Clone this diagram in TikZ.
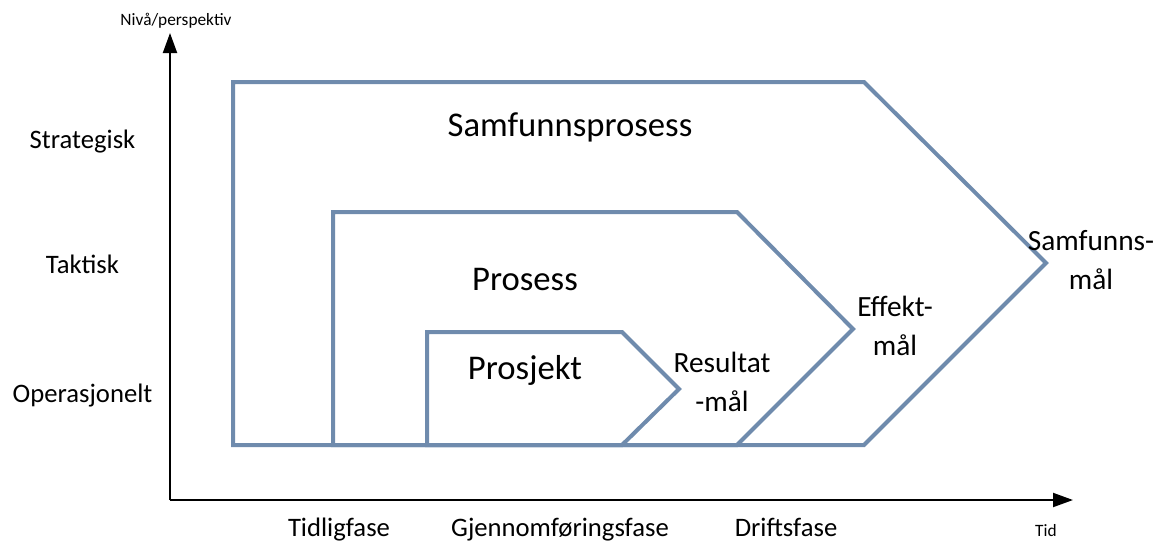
\documentclass[tikz,border=0pt]{standalone}
\usepackage{fontspec}
\setmainfont{Carlito}
\usetikzlibrary{arrows.meta}
\definecolor{frame}{HTML}{6F8BAD}
\tikzset{
  phase/.style={draw=frame, line width=3pt, line join=miter},
  axis/.style={draw=black, line width=1.5pt, -{Triangle[length=15pt,width=10.5pt]}},
  lbl/.style={inner sep=0pt, anchor=base, font=\fontsize{20}{24}\selectfont},
  big/.style={inner sep=0pt, anchor=base, font=\fontsize{26}{31}\selectfont},
  goal/.style={inner sep=0pt, align=center, font=\fontsize{22}{29.5}\selectfont},
  tiny/.style={inner sep=0pt, anchor=base, font=\fontsize{13}{15}\selectfont}
}
\begin{document}
\begin{tikzpicture}[x=0.75pt, y=-0.75pt]
\useasboundingbox (0,0) rectangle (1164,544);

% nested phase shapes
\draw[phase] (233,82) -- (864,82) -- (1046,263) -- (864,445) -- (233,445) -- cycle;
\draw[phase] (333,212) -- (737,212) -- (853,329) -- (737,445) -- (333,445) -- cycle;
\draw[phase] (427,332) -- (622,332) -- (679,389) -- (622,445) -- (427,445) -- cycle;

% axes
\coordinate (origin) at (170,500);
\coordinate (ytip) at (170,33);
\coordinate (xtip) at (1073,500);
\draw[axis] (origin) -- (ytip);
\draw[axis] (origin) -- (xtip);

\node[tiny] (ylab) at (176,25) {Nivå/perspektiv};
\node[tiny] (xlab) at (1046,536) {Tid};

\node[lbl] (strat) at (82.5,148) {Strategisk};
\node[lbl] (takt) at (82.5,273) {Taktisk};
\node[lbl] (oper) at (82.5,402) {Operasjonelt};

\node[lbl] (tidlig) at (339,536) {Tidligfase};
\node[lbl] (gjenn) at (560,536) {Gjennomføringsfase};
\node[lbl] (drift) at (786,536) {Driftsfase};

\node[big] (samf) at (570,136) {Samfunnsprosess};
\node[big] (pros) at (525,290) {Prosess};
\node[big] (prosj) at (525,379) {Prosjekt};

\node[goal] (res) at (722,382) {Resultat\\-mål};
\node[goal] (eff) at (895,326) {Effekt-\\mål};
\node[goal] (samfm) at (1091,260) {Samfunns-\\mål};
\end{tikzpicture}
\end{document}
